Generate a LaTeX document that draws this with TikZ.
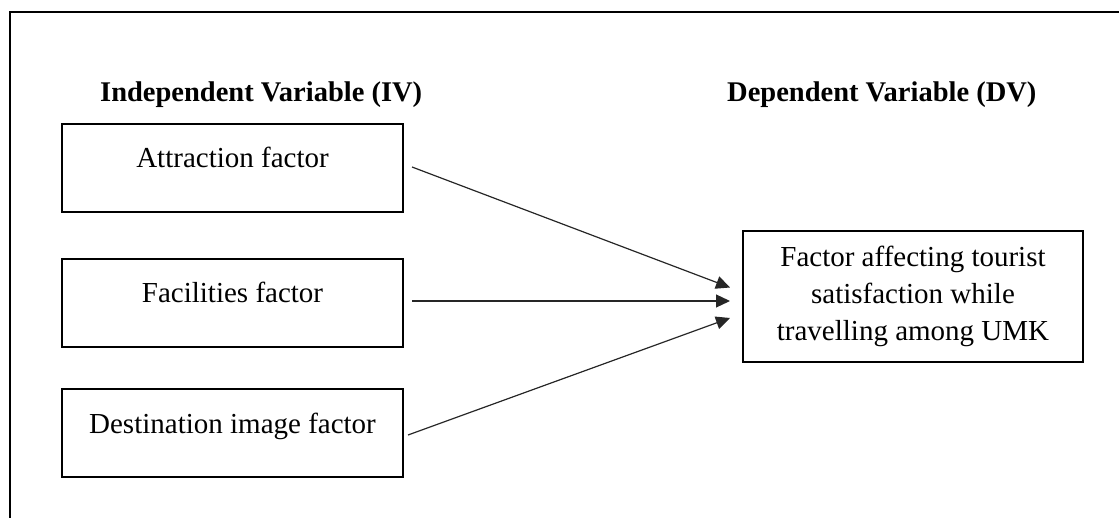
\documentclass[tikz,border=0pt]{standalone}
\usepackage{fontspec}
\setmainfont{Liberation Serif}
\usetikzlibrary{arrows.meta,calc}
\begin{document}
\begin{tikzpicture}[x=1pt,y=-1pt,
  font=\fontsize{29}{37}\selectfont,
  ivbox/.style={draw,line width=2pt,minimum width=341pt,inner xsep=0pt,inner ysep=0pt,text height=44pt,text depth=44pt,anchor=base},
  dvbox/.style={draw,line width=2pt,minimum width=340pt,minimum height=131pt,align=center,inner sep=0pt},
  header/.style={font=\fontsize{28.5}{37}\selectfont\bfseries,anchor=base west,inner sep=0pt},
  link/.style={line width=1.2pt,draw=black!85,-{Triangle[length=14pt,width=13pt]}}
]
\useasboundingbox (0,0) rectangle (1119,518);
\draw[line width=2pt] (10,518) -- (10,12) -- (1119,12);

\node[header] (ivh) at (100,102) {Independent Variable (IV)};
\node[header] (dvh) at (727,102) {Dependent Variable (DV)};

\node[ivbox] (b1) at (232.5,168) {Attraction factor};
\node[ivbox] (b2) at (232.5,303) {Facilities factor};
\node[ivbox] (b3) at (232.5,433) {Destination image factor};

\node[dvbox] (dv) at (913,296.5) {Factor affecting tourist\\satisfaction while\\travelling among UMK};

\coordinate (s1) at ($(b1.east)+(8,-1)$);
\coordinate (s2) at ($(b2.east)+(8,-2)$);
\coordinate (s3) at ($(b3.east)+(4,2)$);
\coordinate (e1) at ($(dv.west)+(-12,-9)$);
\coordinate (e2) at ($(dv.west)+(-12,4.5)$);
\coordinate (e3) at ($(dv.west)+(-12,21.5)$);

\draw[link] (s1) -- (e1);
\draw[link] (s2) -- (e2);
\draw[link] (s3) -- (e3);
\end{tikzpicture}
\end{document}
